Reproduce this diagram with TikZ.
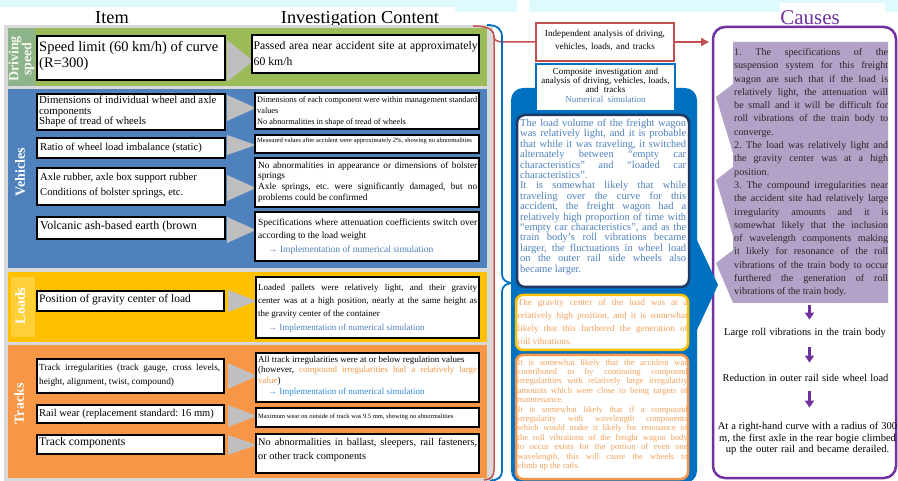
\documentclass[tikz,border=0pt]{standalone}
\usepackage{fontspec}
\setmainfont{Liberation Serif}
\usetikzlibrary{fit,arrows.meta}
\setlength{\parindent}{0pt}
\frenchspacing
\definecolor{ccyan}{HTML}{DFFAFC}
\definecolor{cgreen}{HTML}{9BBB59}
\definecolor{dsgreen}{HTML}{8DB38A}
\definecolor{cblue}{HTML}{4F81BD}
\definecolor{cgold}{HTML}{FFC000}
\definecolor{lgold}{HTML}{FFCF3A}
\definecolor{corange}{HTML}{F79646}
\definecolor{cred}{HTML}{C0504D}
\definecolor{cpurple}{HTML}{7030A0}
\definecolor{clav}{HTML}{B3A2C7}
\definecolor{mblue}{HTML}{0070C0}
\definecolor{cnavy}{HTML}{1F3864}
\definecolor{tblue}{HTML}{4F81BD}
\definecolor{bblue}{HTML}{2E8BD8}
\definecolor{torange}{HTML}{F6A25C}
\definecolor{frgray}{HTML}{D9D9D9}
\definecolor{trigray}{HTML}{BFBFBF}
\definecolor{ctext}{HTML}{262626}
\newcommand\jline[1]{\makebox[\hsize][s]{\spaceskip=0pt\xspaceskip=0pt\relax #1}\\}
\newcommand\fsz[2]{\fontsize{#1}{#2}\selectfont}
\tikzset{
  pbox/.style={draw=black, line width=1.2pt, fill=white, inner sep=0pt},
  tx/.style={anchor=base west, inner sep=0pt, align=justify, execute at begin node={\spaceskip=0pt\xspaceskip=0pt\relax}},
  ctr/.style={anchor=base, inner sep=0pt, align=center, execute at begin node={\spaceskip=0pt\xspaceskip=0pt\relax}},
  vlab/.style={rotate=90, text=white, font=\bfseries\fsz{14}{13}, align=center, inner sep=0pt},
  sect/.style={inner sep=0pt},
  parr/.style={draw=cpurple, line width=2.6pt, -{Triangle[length=7pt,width=9pt]}}
}
\begin{document}
\begin{tikzpicture}[x=1pt,y=-1pt]
\useasboundingbox (0,0) rectangle (898,481);
% background
\fill[ccyan] (0,0) rectangle (898,12);
\fill[white] (0,7) rectangle (94,12);
\fill[white] (517,0) rectangle (529,12);
\node[sect, fill=white, fit={(94,7) (455,26)}] (hdr) {};
\node[sect, fill=white, fit={(780,3) (885,27)}] (chdr) {};
\node[anchor=base, inner sep=0pt, font=\fsz{18.3}{20}] (hitem) at (112,24) {Item};
\node[anchor=base, inner sep=0pt, font=\fsz{18.3}{20}] (hinv) at (360,24) {Investigation Content};
\node[anchor=base, inner sep=0pt, font=\fsz{21}{24}, text=cpurple] (hcause) at (810,24.5) {Causes};

% left frame and sections
\node[sect, fill=frgray, draw=gray!30, line width=1pt, fit={(4,26) (492,480)}] (frame) {};
\node[sect, fill=cgreen, fit={(8,28) (487,86)}] (sdrive) {};
\node[sect, fill=cblue, fit={(8,89) (487,268)}] (sveh) {};
\node[sect, fill=cgold, fit={(8,272) (487,342)}] (sload) {};
\node[sect, fill=corange, fit={(8,345) (487,478)}] (strack) {};
\node[sect, fill=dsgreen, fit={(8,28) (35,86)}] (ldrive) {};
\node[sect, fill=lgold, fit={(11,277) (35,337)}] (lload) {};
\node[vlab, text=white!88!cgreen] (tdrive) at (21.5,59) {Driving\\speed};
\node[vlab] (tveh) at (20,172) {Vehicles};
\node[vlab] (tload) at (20,306) {Loads};
\node[vlab] (ttrack) at (19,404) {Tracks};

% grey arrow triangles
\fill[trigray] (227,40) -- (253,61) -- (227,82) -- cycle;
\fill[trigray] (227,95) -- (256,108) -- (227,121) -- cycle;
\fill[trigray] (227,135) -- (256,145) -- (227,155) -- cycle;
\fill[trigray] (227,175) -- (256,188) -- (227,201) -- cycle;
\fill[trigray] (227,217) -- (256,230) -- (227,243) -- cycle;
\fill[trigray] (228,290) -- (257,301) -- (228,312) -- cycle;
\fill[trigray] (228,363) -- (257,376) -- (228,389) -- cycle;
\fill[trigray] (228,405) -- (257,416) -- (228,427) -- cycle;
\fill[trigray] (228,435) -- (257,445) -- (228,455) -- cycle;

% driving speed
\node[pbox, fit={(37,36) (225,80)}] (d1) {};
\node[pbox, fit={(252,35) (479,73)}] (d2) {};
\node[tx, text width=190, font=\fsz{14.5}{16}] (d1t) at (39,52) {Speed limit (60 km/h) of curve\\(R=300)};
\node[tx, text width=224, font=\fsz{11.7}{16}] (d2t) at (253.5,49.3) {\jline{Passed area near accident site at approximately}60 km/h};

% vehicles
\node[pbox, fit={(37,94) (225,130)}] (v1) {};
\node[pbox, fit={(255,93) (479,129)}] (v1r) {};
\node[tx, text width=200, font=\fsz{10.8}{10.4}] (v1t) at (39,103.7) {Dimensions of individual wheel and axle\\components\\Shape of tread of wheels};
\node[tx, text width=220, font=\fsz{8.3}{10.6}] (v1rt) at (257,103) {\jline{Dimensions of each component were within management standard}values\\No abnormalities in shape of tread of wheels};

\node[pbox, fit={(37,138) (225,158)}] (v2) {};
\node[pbox, fit={(255,135) (479,153)}] (v2r) {};
\node[tx, text width=200, font=\fsz{10.6}{12}] (v2t) at (40,150.8) {Ratio of wheel load imbalance (static)};
\node[tx, text width=240, font=\fsz{6.5}{8}] (v2rt) at (257,142.7) {Measured values after accident were approximately 2\%, showing no abnormalities};

\node[pbox, fit={(37,168) (225,205)}] (v3) {};
\node[pbox, fit={(255,158) (479,207)}] (v3r) {};
\node[tx, text width=200, font=\fsz{10.6}{15}] (v3t) at (40,180.8) {Axle rubber, axle box support rubber\\Conditions of bolster springs, etc.};
\node[tx, text width=219, font=\fsz{9.3}{10.6}] (v3rt) at (258,168.4) {\jline{No abnormalities in appearance or dimensions of bolster}springs\\\jline{Axle springs, etc. were significantly damaged, but no}problems could be confirmed};

\node[pbox, fit={(37,217) (225,239)}] (v4) {};
\node[pbox, fit={(255,212) (479,261)}] (v4r) {};
\node[tx, text width=200, font=\fsz{12}{13}] (v4t) at (40,230) {Volcanic ash-based earth (brown};
\node[tx, text width=219, font=\fsz{9.5}{13.5}] (v4rt) at (258,225.4) {\jline{Specifications where attenuation coefficients switch over}according to the load weight\\\hspace*{10pt}\textcolor{tblue}{→ Implementation of numerical simulation}};

% loads
\node[pbox, fit={(37,291) (224,311)}] (l1) {};
\node[pbox, fit={(256,277) (479,338)}] (l1r) {};
\node[tx, text width=200, font=\fsz{11.5}{13}] (l1t) at (39,302.9) {Position of gravity center of load};
\node[tx, text width=219, font=\fsz{9}{13.3}] (l1rt) at (258,290.2) {\jline{Loaded pallets were relatively light, and their gravity}\jline{center was at a high position, nearly at the same height as}the gravity center of the container\\\hspace*{10pt}\textcolor{tblue}{→ Implementation of numerical simulation}};

% tracks
\node[pbox, fit={(37,359) (224,393)}] (t1) {};
\node[pbox, fit={(256,353) (479,402)}] (t1r) {};
\node[tx, text width=181, font=\fsz{9.3}{14}] (t1t) at (39,370.3) {\jline{Track irregularities (track gauge, cross levels,}height, alignment, twist, compound)};
\node[tx, text width=219, font=\fsz{9}{10.7}] (t1rt) at (258,362.2) {All track irregularities were at or below regulation values\\\jline{(however, \textcolor{corange}{compound irregularities had a relatively large}}\textcolor{corange}{value})\\\hspace*{10pt}\textcolor{bblue}{→ Implementation of numerical simulation}};

\node[pbox, fit={(37,405) (224,423)}] (t2) {};
\node[pbox, fit={(256,408) (479,427)}] (t2r) {};
\node[tx, text width=200, font=\fsz{10.5}{12}] (t2t) at (39,416.7) {Rail wear (replacement standard: 16 mm)};
\node[tx, text width=240, font=\fsz{6.5}{8}] (t2rt) at (258,418.7) {Maximum wear on outside of track was 9.5 mm, showing no abnormalities};

\node[pbox, fit={(37,435) (224,454)}] (t3) {};
\node[pbox, fit={(256,434) (479,473)}] (t3r) {};
\node[tx, text width=200, font=\fsz{11.7}{13}] (t3t) at (39,445) {Track components};
\node[tx, text width=219, font=\fsz{10.3}{14}] (t3rt) at (258,445.6) {\jline{No abnormalities in ballast, sleepers, rail fasteners,}or other track components};

% middle column
\node[sect, fill=mblue, rounded corners=12pt, fit={(511,88) (697,483)}] (bpanel) {};
\node[sect, fill=white, draw=mblue, line width=1.2pt, fit={(536,64) (675,111)}] (comp) {};
\node[ctr, text width=140, font=\fsz{9}{9.4}] (compt) at (605.5,74.2) {Composite investigation and\\analysis of driving, vehicles, loads,\\and tracks\\\textcolor{tblue}{Numerical simulation}};

\node[sect, fill=white, draw=cnavy, line width=2.5pt, rounded corners=8pt, fit={(517,115) (689,287)}] (m1) {};
\node[tx, text width=166, font=\fsz{10.5}{10.4}, text=tblue] (m1t) at (520,126.6) {\jline{The load volume of the freight wagon}\jline{was relatively light, and it is probable}\jline{that while it was traveling, it switched}\jline{alternately between “empty car}\jline{characteristics” and “loaded car}characteristics”.\\\jline{It is somewhat likely that while}\jline{traveling over the curve for this}\jline{accident, the freight wagon had a}\jline{relatively high proportion of time with}\jline{“empty car characteristics”, and as the}\jline{train body’s roll vibrations became}\jline{larger, the fluctuations in wheel load}\jline{on the outer rail side wheels also}became larger.};

\node[sect, fill=white, draw=cgold, line width=2.5pt, rounded corners=7pt, fit={(516,295) (688,350)}] (m2) {};
\node[tx, text width=170, font=\fsz{9.2}{13}, text=torange] (m2t) at (517.5,305.4) {\jline{The gravity center of the load was at a}\jline{relatively high position, and it is somewhat}\jline{likely that this furthered the generation of}roll vibrations.};

\node[sect, fill=white, draw=corange, line width=2.5pt, rounded corners=7pt, fit={(516,355) (688,479)}] (m3) {};
\node[tx, text width=170, font=\fsz{8.6}{9.4}, text=torange] (m3t) at (517.5,365.1) {\jline{It is somewhat likely that the accident was}\jline{contributed to by continuing compound}\jline{irregularities with relatively large irregularity}\jline{amounts which were close to being targets of}maintenance.\\\jline{It is somewhat likely that if a compound}\jline{irregularity with wavelength components}\jline{which would make it likely for resonance of}\jline{the roll vibrations of the freight wagon body}\jline{to occur exists for the portion of even one}\jline{wavelength, this will cause the wheels to}climb up the rails.};

\node[sect, fill=white, draw=cred, line width=1.8pt, fit={(536,23) (674,61)}] (rbox) {};
\node[ctr, text width=136, font=\fsz{9.2}{12.8}] (rboxt) at (605,36.4) {Independent analysis of driving,\\vehicles, loads, and tracks};

% right column
\fill[clav] (733,42) -- (888,42) -- (888,303) -- (733,303) -- (716,263) -- (733,250) -- (733,236) -- (716,180) -- (733,167) -- (733,153) -- (716,97) -- (733,84) -- cycle;
\node[sect, fit={(733,42) (888,303)}] (lav) {};
\node[sect, draw=cpurple, line width=2.5pt, rounded corners=12pt, fit={(713,27) (896,478)}] (cframe) {};
\fill[mblue] (696,238) -- (718,285) -- (696,332) -- cycle;
\node[tx, text width=154, font=\fsz{10.1}{13.3}, text=ctext] (lavt) at (734,55.5) {\jline{1. The specifications of the}\jline{suspension system for this freight}\jline{wagon are such that if the load is}\jline{relatively light, the attenuation will}\jline{be small and it will be difficult for}\jline{roll vibrations of the train body to}converge.\\\jline{2. The load was relatively light and}\jline{the gravity center was at a high}position.\\\jline{3. The compound irregularities near}\jline{the accident site had relatively large}\jline{irregularity amounts and it is}\jline{somewhat likely that the inclusion}\jline{of wavelength components making}\jline{it likely for resonance of the roll}\jline{vibrations of the train body to occur}\jline{furthered the generation of roll}vibrations of the train body.};

\node[ctr, text width=190, font=\fsz{10.4}{11.5}] (c1) at (805,335.5) {Large roll vibrations in the train body};
\node[ctr, text width=190, font=\fsz{10.4}{11.5}] (c2) at (805.5,381.5) {Reduction in outer rail side wheel load};
\node[ctr, text width=190, font=\fsz{10.5}{11.5}] (c3) at (807.5,429.6) {At a right-hand curve with a radius of 300\\m, the first axle in the rear bogie climbed\\up the outer rail and became derailed.};
\coordinate (ax) at (809.5,0);
\draw[parr, shorten <=2pt, shorten >=8.5pt] (ax |- lav.south) -- (ax |- c1.north);
\draw[parr, shorten <=9.3pt, shorten >=11.5pt] (ax |- c1.south) -- (ax |- c2.north);
\draw[parr, shorten <=9.3pt, shorten >=14.4pt] (ax |- c2.south) -- (ax |- c3.north);

% red arrow to causes
\coordinate (rin) at (709,42);
\draw[cred, line width=1.5pt, -{Triangle[length=8pt,width=8pt]}] (rbox.east) -- (rin);

% brackets
\coordinate (rtop) at (473,26);
\coordinate (rjoin) at (494,37);
\coordinate (rbot) at (484,480);
\draw[cred, line width=1.5pt] (rtop) .. controls (487,26) and (494,29) .. (rjoin) -- (494,470) .. controls (494,476) and (491,479.5) .. (rbot);
\draw[cred, line width=1.5pt] (rjoin) .. controls (494,40) and (497,42) .. (504,42) -- (rbox.west);
\coordinate (btop) at (487,25);
\coordinate (btip) at (514,283);
\coordinate (bbot) at (490,480.5);
\draw[mblue, line width=1.8pt] (btop) .. controls (497,25) and (502,29) .. (502,37) -- (502,274) .. controls (502,280) and (506,283) .. (btip) .. controls (506,283) and (502,286) .. (502,292) -- (502,471) .. controls (502,477) and (498,480.5) .. (bbot);
\end{tikzpicture}
\end{document}
